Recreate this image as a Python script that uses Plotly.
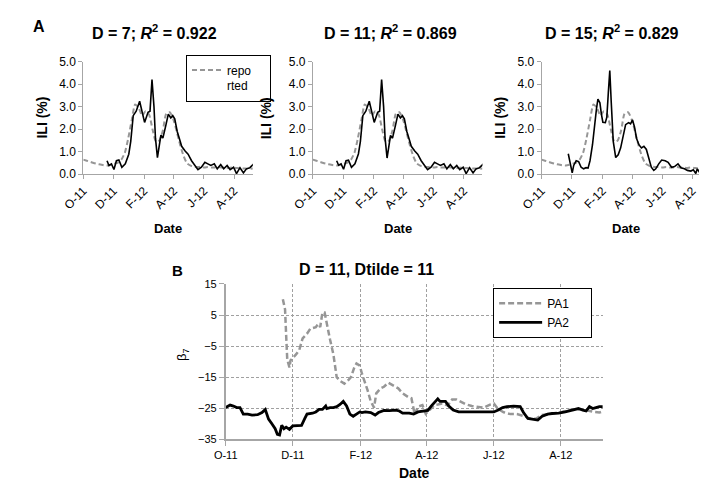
import pandas as pd
import plotly.graph_objects as go

# ---------------- data ----------------
BASE = "2011-10-01"
tick_dates = ["2011-10-01", "2011-12-01", "2012-02-01", "2012-04-01", "2012-06-01", "2012-08-01"]
tick_text = ["O-11", "D-11", "F-12", "A-12", "J-12", "A-12"]
x_range = ["2011-10-01", "2012-09-08"]

panel_titles = ["D = 7; <i>R</i><sup>2</sup> = 0.922",
                "D = 11; <i>R</i><sup>2</sup> = 0.869",
                "D = 15; <i>R</i><sup>2</sup> = 0.829"]
bottom_title = "D = 11, Dtilde = 11"

# reported ILI (%) - weekly, days since 2011-10-01
reported_day = [0, 7, 14, 21, 28, 35, 42, 49, 56, 63,
                70, 77, 84, 91, 98, 105, 112, 119, 126, 133,
                140, 147, 154, 161, 168, 175, 182, 189, 196, 203,
                210, 217, 224, 231, 238, 245, 252, 259, 266, 273,
                280, 287, 294, 301, 308, 315, 322, 329, 336, 343]
reported_ili = [0.65, 0.6, 0.55, 0.5, 0.46, 0.43, 0.4, 0.39, 0.42, 0.47,
                0.52, 0.65, 0.95, 1.6, 2.4, 3.1, 2.95, 2.6, 2.8, 2.65,
                2.0, 1.45, 1.5, 1.95, 2.7, 2.75, 2.45, 1.9, 1.3, 0.8,
                0.48, 0.38, 0.34, 0.32, 0.33, 0.3, 0.32, 0.3, 0.3, 0.32,
                0.3, 0.3, 0.28, 0.3, 0.28, 0.27, 0.25, 0.25, 0.24, 0.25]

# estimated ILI (%), D = 7
est7_day = [48, 52, 57, 62, 67, 72, 78, 85, 92, 96, 101, 107, 114, 118, 124,
            131, 135, 139, 143, 146, 150, 157, 161, 167, 172, 177, 181, 185, 190, 196,
            199, 206, 212, 219, 226, 232, 239, 246, 252, 258, 265, 271, 278, 284, 291,
            297, 304, 310, 317, 324, 330, 337, 345]
est7_ili = [0.6, 0.39, 0.46, 0.21, 0.6, 0.63, 0.31, 0.46, 0.89, 1.46, 2.6, 2.8, 3.24, 2.9, 2.3,
            2.75, 2.8, 4.2, 3.0, 1.6, 0.74, 1.74, 1.6, 2.17, 2.67, 2.5, 2.6, 2.46, 1.9, 1.46,
            1.24, 1.03, 0.89, 0.6, 0.39, 0.2, 0.31, 0.53, 0.46, 0.39, 0.46, 0.24, 0.43, 0.24, 0.39,
            0.2, 0.31, 0.03, 0.29, 0.06, 0.24, 0.29, 0.46]

# estimated ILI (%), D = 11
est11_day = [48, 52, 57, 62, 67, 72, 78, 85, 92, 96, 101, 107, 114, 118, 124,
             131, 135, 139, 143, 146, 150, 157, 161, 167, 172, 177, 181, 185, 190, 196,
             199, 206, 212, 219, 226, 232, 239, 246, 252, 258, 265, 271, 278, 284, 291,
             297, 304, 310, 317, 324, 330, 337, 345]
est11_ili = [0.6, 0.4, 0.46, 0.22, 0.6, 0.62, 0.31, 0.46, 0.9, 1.45, 2.6, 2.8, 3.24, 2.9, 2.3,
             2.75, 2.8, 4.2, 3.0, 1.6, 0.72, 1.72, 1.6, 2.17, 2.67, 2.5, 2.6, 2.46, 1.9, 1.46,
             1.24, 1.03, 0.89, 0.6, 0.39, 0.2, 0.31, 0.53, 0.46, 0.39, 0.46, 0.24, 0.43, 0.24, 0.39,
             0.2, 0.31, 0.03, 0.29, 0.06, 0.24, 0.29, 0.46]

# estimated ILI (%), D = 15
est15_day = [54, 59, 62, 65, 70, 75, 80, 85, 90, 94, 98, 103, 107, 111, 114,
             118, 121, 124, 129, 132, 135, 138, 141, 145, 150, 155, 160, 165, 170, 176,
             180, 184, 188, 192, 197, 202, 207, 212, 217, 222, 227, 231, 237, 243, 250,
             256, 263, 269, 276, 282, 289, 295, 302, 307, 312, 315, 322, 328, 335, 341]
est15_ili = [0.91, 0.46, 0.06, 0.39, 0.6, 0.56, 0.31, 0.24, 0.29, 0.27, 0.6, 1.31, 2.17, 2.89, 3.34,
             3.17, 2.67, 2.31, 2.29, 2.53, 3.6, 4.6, 3.17, 1.46, 0.74, 0.86, 1.17, 1.67, 2.2, 2.29,
             2.24, 2.41, 2.1, 1.6, 1.31, 1.17, 1.24, 1.1, 0.67, 0.31, 0.17, 0.24, 0.46, 0.63, 0.6,
             0.53, 0.31, 0.34, 0.46, 0.29, 0.24, 0.17, 0.14, 0.2, 0.03, 0.24, 0.0, 0.17, 0.31, 0.39]

# beta_7 coefficients
pa1_day = [52, 54, 55, 56, 58, 59, 61, 64, 67, 70, 74, 77, 82, 84, 86, 88, 90, 92, 95, 98,
           101, 104, 108, 112, 114, 117, 119, 122, 124, 129, 132, 135, 137, 141, 144, 148, 152, 157, 161, 166,
           169, 172, 175, 179, 182, 186, 190, 193, 197, 202, 206, 210, 215, 219, 224, 230, 235, 241, 244, 248,
           253, 259, 265, 272, 277, 282, 288, 294, 300, 306, 312, 318, 324, 330, 335, 340, 344]
pa1_beta = [10.1, 6.8, -1.5, -9.3, -11.9, -9.6, -8.8, -7.7, -6.2, -2.5, -1.0, 0.6, 1.1, 2.1, 1.1, 5.8, 5.8, 2.7, -3.0, -7.7,
            -15.0, -16.2, -17.1, -15.8, -15.0, -11.9, -10.6, -11.3, -13.9, -19.1, -22.8, -24.8, -20.2, -18.6, -18.1, -16.8, -17.6, -18.6, -20.2, -21.4,
            -21.8, -27.0, -24.5, -24.0, -26.8, -25.3, -24.0, -23.8, -23.5, -24.1, -22.2, -22.2, -23.0, -23.8, -24.3, -24.5, -24.8, -23.8, -23.5, -25.3,
            -26.3, -26.9, -26.9, -27.6, -28.4, -28.4, -27.2, -26.9, -26.6, -26.2, -25.6, -25.3, -25.3, -25.9, -26.2, -26.4, -25.9]

pa2_day = [0, 4, 7, 10, 13, 16, 20, 24, 29, 33, 36, 39, 42, 45, 47, 49, 51, 53, 55, 58,
           61, 66, 69, 72, 74, 79, 82, 85, 88, 91, 92, 95, 98, 101, 104, 107, 110, 113, 116, 119,
           122, 124, 127, 132, 136, 139, 144, 149, 155, 158, 161, 167, 171, 175, 180, 184, 187, 190, 193, 195,
           197, 200, 203, 207, 212, 218, 224, 230, 235, 244, 248, 252, 256, 262, 268, 271, 275, 280, 284, 288,
           293, 297, 303, 309, 315, 321, 325, 328, 331, 334, 337, 340, 344]
pa2_beta = [-24.8, -24.0, -24.3, -24.8, -24.8, -26.9, -26.9, -27.2, -27.1, -26.4, -25.4, -28.5, -30.0, -31.6, -33.4, -33.6, -30.5, -31.6, -31.1, -31.8,
            -30.7, -30.5, -30.5, -28.3, -26.9, -26.6, -26.2, -25.4, -25.4, -24.3, -25.1, -24.8, -24.8, -24.5, -23.8, -22.8, -24.3, -26.9, -27.6, -26.9,
            -26.2, -26.4, -26.2, -26.4, -27.2, -26.4, -25.7, -25.8, -25.6, -25.9, -26.6, -26.6, -26.9, -26.2, -25.9, -25.7, -24.3, -23.3, -22.0, -22.8,
            -22.8, -22.8, -24.3, -25.6, -26.2, -26.2, -26.2, -26.2, -26.2, -26.2, -25.6, -24.8, -24.5, -24.3, -24.5, -26.4, -28.3, -28.7, -28.8, -27.6,
            -26.9, -26.7, -26.6, -26.2, -25.6, -25.1, -25.6, -25.9, -24.5, -25.1, -24.8, -24.5, -24.5]


def to_dates(days):
    return pd.Timestamp(BASE) + pd.to_timedelta(days, unit="D")


# ---------------- figure ----------------
W, H = 707, 481
FONT = "Liberation Sans, Arial, sans-serif"
GRAY = "#969696"
AXIS = "#A6A6A6"
NB = "\u00a0"


def fx(px):
    return px / W


def fy(py):
    return 1 - py / H


fig = go.Figure()

estimates = [(est7_day, est7_ili), (est11_day, est11_ili), (est15_day, est15_ili)]
for i, (d, v) in enumerate(estimates):
    sfx = "" if i == 0 else str(i + 1)
    fig.add_trace(go.Scatter(
        x=to_dates(reported_day), y=reported_ili, mode="lines",
        name="repo<br>rted" + NB * 5, showlegend=(i == 0), legend="legend",
        line=dict(color=GRAY, width=2, dash="5px,3px", shape="spline", smoothing=0.6),
        xaxis="x" + sfx, yaxis="y" + sfx))
    fig.add_trace(go.Scatter(
        x=to_dates(d), y=v, mode="lines", showlegend=False,
        line=dict(color="black", width=1.6),
        xaxis="x" + sfx, yaxis="y" + sfx))

fig.add_trace(go.Scatter(
    x=to_dates(pa1_day), y=pa1_beta, mode="lines", name="PA1" + NB * 5, legend="legend2",
    line=dict(color=GRAY, width=2.5, dash="6px,3px"), xaxis="x4", yaxis="y4"))
fig.add_trace(go.Scatter(
    x=to_dates(pa2_day), y=pa2_beta, mode="lines", name="PA2" + NB * 5, legend="legend2",
    line=dict(color="black", width=2.8), xaxis="x4", yaxis="y4"))

top_x = [(55, 230), (292, 467), (528, 703)]
layout = dict(
    width=W, height=H, margin=dict(l=0, r=0, t=0, b=0),
    paper_bgcolor="white", plot_bgcolor="white",
    font=dict(family=FONT, size=12, color="black"),
    legend=dict(x=fx(161), y=fy(41), xanchor="left", yanchor="top",
                bgcolor="white", bordercolor="black", borderwidth=1,
                font=dict(size=12), valign="top", tracegroupgap=0, itemwidth=30),
    legend2=dict(x=fx(478), y=fy(281), xanchor="left", yanchor="top",
                 bgcolor="white", bordercolor="black", borderwidth=1,
                 font=dict(size=12), tracegroupgap=0, itemwidth=43),
)

for i, (x0, x1) in enumerate(top_x):
    sfx = "" if i == 0 else str(i + 1)
    layout["xaxis" + sfx] = dict(
        domain=[fx(x0), fx(x1)], anchor="y" + sfx, type="date", range=x_range,
        tickmode="array", tickvals=tick_dates, ticktext=tick_text, tickangle=-45,
        ticks="outside", ticklen=4, tickcolor=AXIS, showline=True, linecolor=AXIS,
        linewidth=1, showgrid=False, zeroline=False, tickfont=dict(size=12))
    layout["yaxis" + sfx] = dict(
        domain=[fy(164), fy(48)], anchor="x" + sfx, range=[0, 5], dtick=1,
        tickformat=".1f", ticks="outside", ticklen=4, tickcolor=AXIS,
        showline=True, linecolor=AXIS, linewidth=1, showgrid=False,
        zeroline=False, tickfont=dict(size=12))

layout["xaxis4"] = dict(
    domain=[fx(202), fx(591)], anchor="y4", type="date", range=x_range,
    tickmode="array", tickvals=tick_dates, ticktext=tick_text, tickangle=0,
    ticks="outside", ticklen=5, tickcolor=AXIS, showline=True, linecolor=AXIS,
    linewidth=1.5, showgrid=True, gridcolor="#A0A0A0", griddash="3px,2px",
    gridwidth=1, zeroline=False, tickfont=dict(size=11))
layout["yaxis4"] = dict(
    domain=[fy(437), fy(277)], anchor="x4", range=[-35, 15], tick0=-35, dtick=10,
    ticks="outside", ticklen=5, tickcolor=AXIS, showline=True, linecolor=AXIS,
    linewidth=1.5, showgrid=True, gridcolor="#A0A0A0", griddash="3px,2px",
    gridwidth=1, zeroline=False, tickfont=dict(size=11))

fig.update_layout(**layout)

ann = []
title_x = [128, 372, 601]
ylab_x = [12, 244, 485]
for i in range(3):
    ann.append(dict(x=fx(title_x[i]), y=fy(17), text="<b>" + panel_titles[i] + "</b>",
                    font=dict(size=16)))
    ann.append(dict(x=fx(ylab_x[i]), y=fy(106), text="<b>ILI (%)</b>", textangle=-90,
                    font=dict(size=14)))
    cx = (top_x[i][0] + top_x[i][1]) / 2
    ann.append(dict(x=fx(cx), y=fy(220), text="<b>Date</b>", font=dict(size=13)))
ann.append(dict(x=fx(9), y=fy(12), text="<b>A</b>", font=dict(size=16)))
ann.append(dict(x=fx(152), y=fy(263), text="<b>B</b>", font=dict(size=15)))
ann.append(dict(x=fx(347), y=fy(262), text="<b>" + bottom_title + "</b>", font=dict(size=16)))
ann.append(dict(x=fx(158), y=fy(350), text="β<sub>7</sub>", textangle=-90, font=dict(size=13)))
ann.append(dict(x=fx(396.5), y=fy(472), text="<b>Date</b>", font=dict(size=14)))
for a in ann:
    a.update(xref="paper", yref="paper", showarrow=False, xanchor="center", yanchor="middle")
fig.update_layout(annotations=ann)

fig.write_html("out.html")
